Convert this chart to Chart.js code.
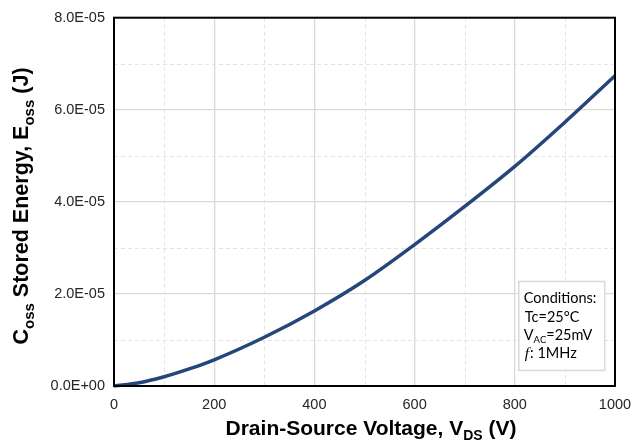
<!DOCTYPE html>
<html>
<head>
<meta charset="utf-8">
<script src="https://cdn.jsdelivr.net/npm/chart.js@4"></script>
<style>
  html, body { margin: 0; padding: 0; background: #ffffff; }
  #wrap { width: 643px; height: 441px; position: relative; }
</style>
</head>
<body>
<div id="wrap"><canvas id="c" width="643" height="441"></canvas></div>
<script>
// Data
const voltage = [0, 50, 100, 150, 200, 300, 400, 500, 600, 700, 800, 900, 1000];
const energy  = [0, 0.07e-5, 0.20e-5, 0.37e-5, 0.57e-5, 1.06e-5, 1.63e-5, 2.29e-5, 3.07e-5, 3.90e-5, 4.77e-5, 5.73e-5, 6.74e-5];
const xTicks = [0, 200, 400, 600, 800, 1000];
const yTicks = [0, 2e-5, 4e-5, 6e-5, 8e-5];
const xMinor = [100, 300, 500, 700, 900];
const yMinor = [1e-5, 3e-5, 5e-5, 7e-5];
const conditions = ["Conditions:", "Tc=25°C", "V_AC=25mV", "f: 1MHz"];

const points = voltage.map((v, i) => ({ x: v, y: energy[i] }));

function drawRich(ctx, parts, size, subSize) {
  let total = 0;
  parts.forEach(p => {
    ctx.font = 'bold ' + (p.sub ? subSize : size) + 'px "Liberation Sans", Arial, sans-serif';
    p.w = ctx.measureText(p.t).width;
    total += p.w;
  });
  let x = -total / 2;
  parts.forEach(p => {
    ctx.font = 'bold ' + (p.sub ? subSize : size) + 'px "Liberation Sans", Arial, sans-serif';
    ctx.fillText(p.t, x, p.sub ? size * 0.26 : 0);
    x += p.w;
  });
}

const decor = {
  id: 'decor',
  beforeDatasetsDraw(chart) {
    const { ctx, chartArea: a, scales: { x, y } } = chart;
    ctx.save();
    ctx.strokeStyle = '#e3e3e3';
    ctx.lineWidth = 1;
    ctx.setLineDash([4, 3]);
    xMinor.forEach(v => {
      const px = Math.round(x.getPixelForValue(v)) + 0.5;
      ctx.beginPath(); ctx.moveTo(px, a.top); ctx.lineTo(px, a.bottom); ctx.stroke();
    });
    yMinor.forEach(v => {
      const py = Math.round(y.getPixelForValue(v)) + 0.5;
      ctx.beginPath(); ctx.moveTo(a.left, py); ctx.lineTo(a.right, py); ctx.stroke();
    });
    ctx.restore();
  },
  afterDraw(chart) {
    const { ctx, chartArea: a, scales: { x, y } } = chart;
    ctx.save();
    // plot border
    ctx.strokeStyle = '#000';
    ctx.lineWidth = 2;
    ctx.setLineDash([]);
    ctx.strokeRect(a.left, a.top, a.right - a.left, a.bottom - a.top);

    // axis titles
    ctx.fillStyle = '#000';
    ctx.textBaseline = 'alphabetic';
    ctx.textAlign = 'left';
    ctx.save();
    ctx.translate(371, 435);
    drawRich(ctx, [
      { t: 'Drain-Source Voltage, V' },
      { t: 'DS', sub: true },
      { t: ' (V)' }
    ], 21, 14);
    ctx.restore();

    ctx.save();
    ctx.translate(28, 206);
    ctx.rotate(-Math.PI / 2);
    drawRich(ctx, [
      { t: 'C' },
      { t: 'oss', sub: true },
      { t: ' Stored Energy, E' },
      { t: 'oss', sub: true },
      { t: ' (J)' }
    ], 21.5, 15);
    ctx.restore();

    // conditions box
    const bx = x.getPixelForValue(808), by = y.getPixelForValue(2.27e-5);
    const bw = 86, bh = 89;
    ctx.fillStyle = '#fff';
    ctx.fillRect(bx, by, bw, bh);
    ctx.strokeStyle = '#d9d9d9';
    ctx.lineWidth = 1.5;
    ctx.strokeRect(bx, by, bw, bh);
    ctx.fillStyle = '#000';
    const fs = 14.5;
    const fam = 'Lato, "Open Sans", sans-serif';
    const lh = 18.3;
    let ty = by + 22;
    ctx.font = fs + 'px ' + fam;
    ctx.fillText(conditions[0], bx + 5, ty);
    ty += lh;
    ctx.fillText(conditions[1], bx + 6, ty);
    ty += lh;
    // V_AC line with subscript
    const parts = conditions[2].split('_');
    let tx = bx + 5;
    ctx.font = fs + 'px ' + fam;
    ctx.fillText(parts[0], tx, ty); tx += ctx.measureText(parts[0]).width;
    const sub = parts[1].slice(0, 2), rest = parts[1].slice(2);
    ctx.font = '9.5px ' + fam;
    ctx.fillText(sub, tx, ty + 3); tx += ctx.measureText(sub).width;
    ctx.font = fs + 'px ' + fam;
    ctx.fillText(rest, tx, ty);
    ty += lh;
    tx = bx + 6;
    ctx.font = 'italic ' + (fs + 1) + 'px "Liberation Serif", serif';
    ctx.fillText('f', tx, ty); tx += ctx.measureText('f').width + 1;
    ctx.font = fs + 'px ' + fam;
    ctx.fillText(conditions[3].slice(1), tx, ty);
    ctx.restore();
  }
};

new Chart(document.getElementById('c'), {
  type: 'line',
  data: {
    datasets: [{
      data: points,
      borderColor: '#25467a',
      borderWidth: 3.5,
      pointRadius: 0,
      fill: false,
      cubicInterpolationMode: 'monotone',
      clip: false
    }]
  },
  options: {
    responsive: false,
    animation: false,
    devicePixelRatio: 1,
    layout: { padding: { left: 0, top: 16, right: 28, bottom: 0 } },
    plugins: { legend: { display: false }, tooltip: { enabled: false } },
    scales: {
      x: {
        type: 'linear',
        min: 0, max: 1000,
        afterBuildTicks: s => { s.ticks = xTicks.map(v => ({ value: v })); },
        afterFit: s => { s.height = 55; },
        grid: { color: '#d9d9d9', lineWidth: 1.3, drawTicks: false },
        border: { display: false },
        ticks: {
          padding: 10,
          color: '#262626',
          font: { family: '"Liberation Sans", Arial, sans-serif', size: 14.5 },
          maxRotation: 0,
          callback: v => String(v)
        }
      },
      y: {
        type: 'linear',
        min: 0, max: 8e-5,
        afterBuildTicks: s => { s.ticks = yTicks.map(v => ({ value: v })); },
        afterFit: s => { s.width = 114; },
        grid: { color: '#d9d9d9', lineWidth: 1.3, drawTicks: false },
        border: { display: false },
        ticks: {
          padding: 9,
          color: '#262626',
          font: { family: '"Liberation Sans", Arial, sans-serif', size: 14.5 },
          callback: v => {
            const e = Number(v).toExponential(1).toUpperCase();
            const m = e.split('E');
            let exp = parseInt(m[1], 10);
            const sign = exp < 0 ? '-' : '+';
            exp = Math.abs(exp);
            return m[0] + 'E' + sign + String(exp).padStart(2, '0');
          }
        }
      }
    }
  },
  plugins: [decor]
});
</script>
</body>
</html>
